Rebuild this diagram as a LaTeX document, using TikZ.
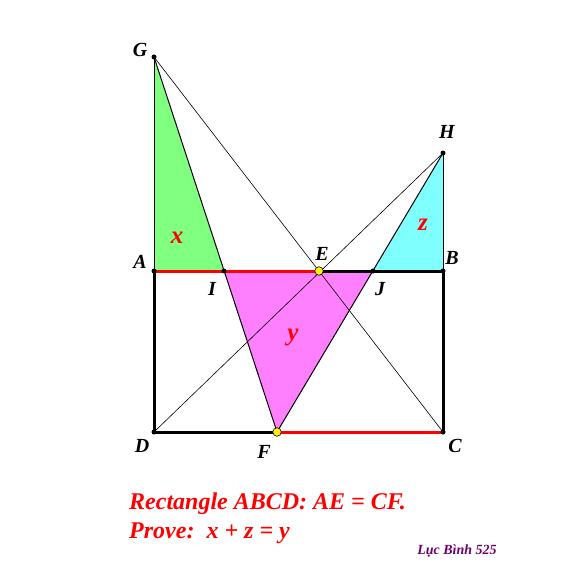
\documentclass[tikz,border=0pt]{standalone}
\usepackage{fontspec}
\setmainfont{Liberation Serif}
\begin{document}
\begin{tikzpicture}[x=1pt,y=-1pt,
  lbl/.style={font=\fontsize{20}{20}\selectfont\bfseries\itshape},
  var/.style={font=\fontsize{25}{25}\selectfont\bfseries\itshape,text=red},
  dot/.style={circle,fill=black,inner sep=0pt,minimum size=5pt},
  ydot/.style={circle,fill=yellow,draw=black,line width=0.6pt,inner sep=0pt,minimum size=8.5pt},
  thinl/.style={line width=0.6pt},
  tri/.style={line width=1pt},
  side/.style={line width=3pt}]
\useasboundingbox (0,0) rectangle (588,588);
\coordinate (G) at (154,57);
\coordinate (H) at (443,153);
\coordinate (A) at (154,271);
\coordinate (B) at (443,271);
\coordinate (C) at (443,432);
\coordinate (D) at (154,432);
\coordinate (E) at (319,271);
\coordinate (F) at (277,432);
\coordinate (I) at (224,271);
\coordinate (J) at (373,271);
\definecolor{grn}{RGB}{128,255,128}
\definecolor{cyn}{RGB}{128,255,255}
\definecolor{mag}{RGB}{255,128,255}
\definecolor{purp}{RGB}{110,0,110}
\fill[grn] (G) -- (A) -- (I) -- cycle;
\fill[cyn] (H) -- (J) -- (B) -- cycle;
\fill[mag] (I) -- (J) -- (F) -- cycle;
\draw[thinl] (G) -- (C);
\draw[thinl] (D) -- (H);
\draw[tri] (G) -- (F) -- (H);
\draw[tri] (G) -- (A);
\draw[tri] (H) -- (B);
\draw[side] (A) -- (D) -- (F);
\draw[side] (E) -- (B) -- (C);
\draw[side,red] (A) -- (E);
\draw[side,red] (F) -- (C);
\foreach \p in {G,H,A,B,C,D,I,J} \node[dot] (d\p) at (\p) {};
\node[ydot] (dE) at (E) {};
\node[ydot] (dF) at (F) {};
\node[lbl] (lG) at (140,50) {G};
\node[lbl] (lH) at (447,132) {H};
\node[lbl] (lA) at (140,262) {A};
\node[lbl] (lB) at (452,258) {B};
\node[lbl] (lC) at (455,446) {C};
\node[lbl] (lD) at (142,446) {D};
\node[lbl] (lE) at (322,254) {E};
\node[lbl] (lF) at (264,452) {F};
\node[lbl] (lI) at (212,289) {I};
\node[lbl] (lJ) at (380,289) {J};
\node[var] (vx) at (177,238) {x};
\node[var] (vy) at (293,337) {y};
\node[var] (vz) at (423,225) {z};
\node[anchor=base west,inner sep=0pt,font=\fontsize{24}{24}\selectfont\bfseries\itshape,text=red] (t1) at (129,509) {Rectangle ABCD: AE = CF.};
\node[anchor=base west,inner sep=0pt,font=\fontsize{24}{24}\selectfont\bfseries\itshape,text=red] (t2) at (129,538) {Prove:\ \ x + z = y};
\node[anchor=base,inner sep=0pt,font=\fontsize{14}{14}\selectfont\bfseries\itshape,text=purp] (t3) at (457,554) {Lục Bình 525};
\end{tikzpicture}
\end{document}
